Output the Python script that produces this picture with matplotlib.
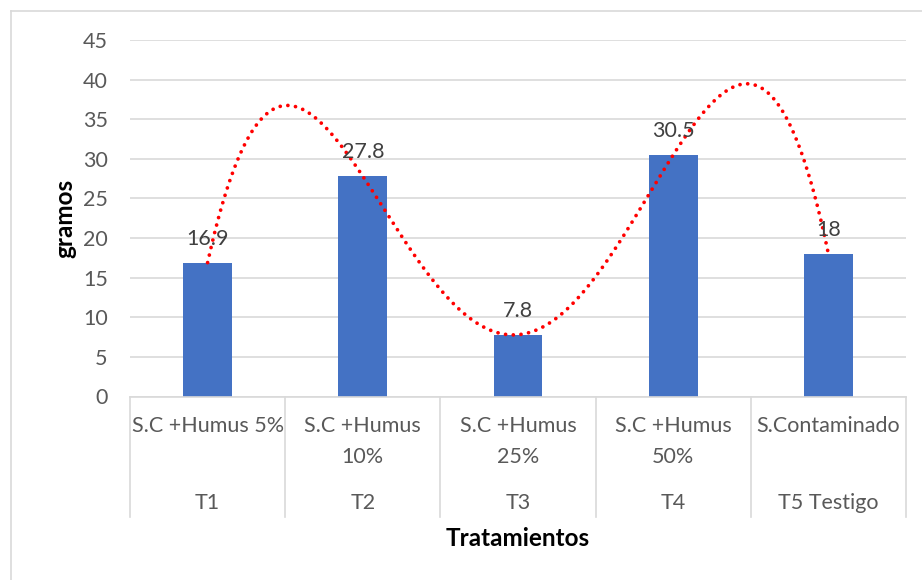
import numpy as np
import matplotlib
matplotlib.use("Agg")
import matplotlib.pyplot as plt
from matplotlib.lines import Line2D

plt.rcParams['font.family'] = ['Lato', 'DejaVu Sans']

# Data
tratamientos = ["T1", "T2", "T3", "T4", "T5 Testigo"]
descripciones = ["S.C +Humus 5%", "S.C +Humus\n10%", "S.C +Humus\n25%",
                 "S.C +Humus\n50%", "S.Contaminado"]
gramos = [16.9, 27.8, 7.8, 30.5, 18]
yticks = [0, 5, 10, 15, 20, 25, 30, 35, 40, 45]

W, H = 922, 580
fig = plt.figure(figsize=(W / 100, H / 100), dpi=100)
fig.patch.set_facecolor("white")

# chart frame (left and top edges visible)
fig.add_artist(Line2D([11 / W, 11 / W], [0, 1 - 11 / H], color="#D9D9D9", lw=1.2))
fig.add_artist(Line2D([11 / W, 1], [1 - 11 / H, 1 - 11 / H], color="#D9D9D9", lw=1.2))

left, right = 130 / W, 906 / W
bottom, top = 1 - 396.5 / H, 1 - 40 / H
ax = fig.add_axes([left, bottom, right - left, top - bottom])

x = np.arange(len(gramos))
bars = ax.bar(x, gramos, width=0.315, color="#4472C4", zorder=2)

# polynomial trend (order 4) over the treatment values
xs = np.arange(1, len(gramos) + 1)
coef = np.polyfit(xs, gramos, 4)
xf = np.linspace(1, len(gramos), 600)
yf = np.polyval(coef, xf)
trend, = ax.plot(xf - 1, yf, color="#FF0000", lw=2.7, zorder=3)
trend.set_linestyle((0, (0.01, 2.05)))
trend.set_dash_capstyle("round")

# value labels
for xi, v in zip(x, gramos):
    ax.annotate(f"{v:g}", (xi, v), xytext=(0, 10), textcoords="offset points",
                ha="center", va="bottom", fontsize=15.5, color="#404040", zorder=4)

ax.set_xlim(-0.5, len(gramos) - 0.5)
ax.set_ylim(0, 45)
ax.set_yticks(yticks)
ax.set_yticklabels([str(t) for t in yticks], fontsize=15.5, color="#595959")
ax.tick_params(axis="y", length=0, pad=16)
ax.set_xticks([])
ax.grid(axis="y", color="#D9D9D9", lw=1.2, zorder=0)
for s in ["top", "right", "left"]:
    ax.spines[s].set_visible(False)
ax.spines["bottom"].set_color("#D9D9D9")
ax.spines["bottom"].set_linewidth(1.2)
ax.set_axisbelow(True)

# multi-level category axis
ah = 396.5 - 40
xt = ax.get_xaxis_transform()
sep_bottom = -(516.7 - 396.5) / ah
for b in np.arange(-0.5, len(gramos), 1.0):
    ax.add_artist(Line2D([b, b], [0, sep_bottom], transform=xt, color="#D9D9D9",
                         lw=1.2, clip_on=False))
row1 = -(416.5 - 396.5) / ah
row2 = -(502.7 - 396.5) / ah
for xi, d, t in zip(x, descripciones, tratamientos):
    ax.text(xi, row1, d, transform=xt, ha="center", va="top", fontsize=15.5,
            color="#595959", linespacing=1.65, clip_on=False)
    ax.text(xi, row2, t, transform=xt, ha="center", va="center", fontsize=15.5,
            color="#595959", clip_on=False)

fig.text(518 / W, 1 - 538 / H, "Tratamientos", ha="center", va="center",
         fontsize=17.5, fontweight="bold", color="black")
fig.text(65 / W, 1 - 218 / H, "gramos", ha="center", va="center", rotation=90,
         fontsize=17.5, fontweight="bold", color="black")

fig.savefig("out.png", dpi=100, facecolor="white")
